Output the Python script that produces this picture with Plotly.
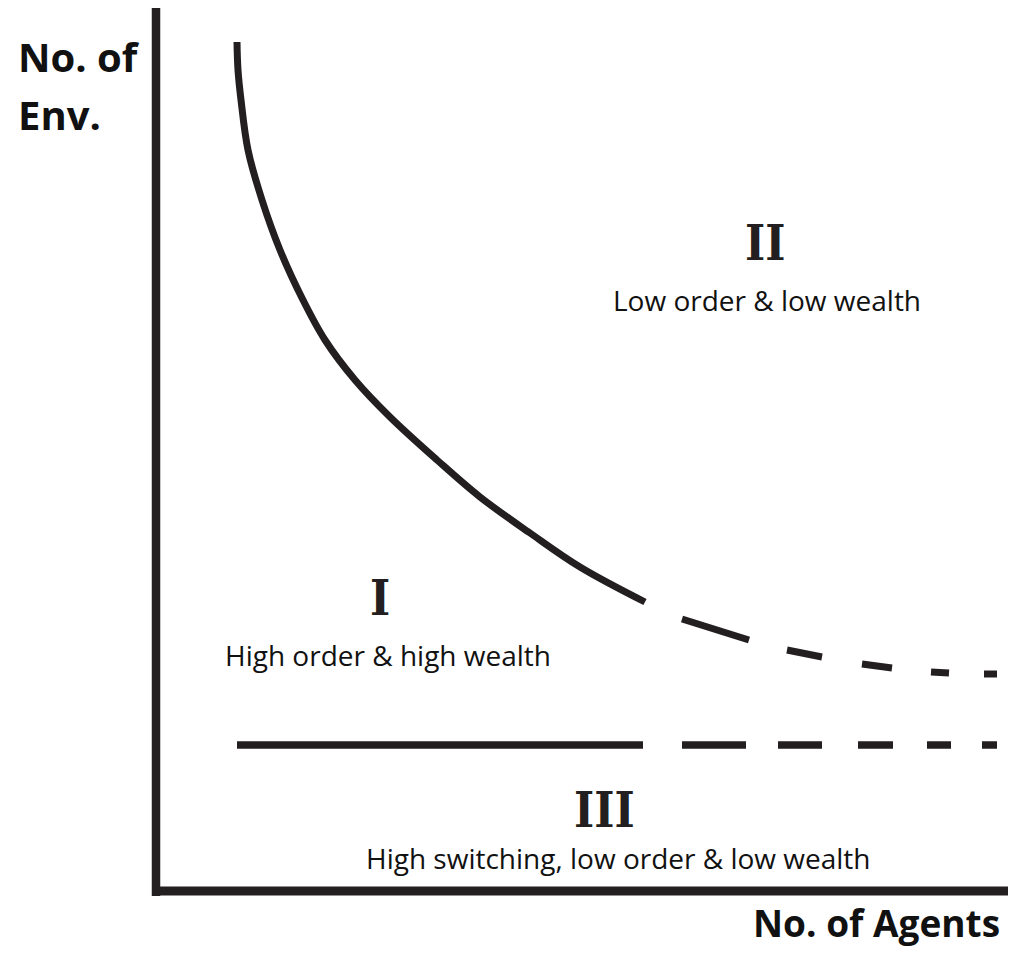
import plotly.graph_objects as go

INK = "#231f20"

# Schematic units: x = No. of Agents, y = No. of Env. (arbitrary)
curve_x = [0.81, 0.82, 0.85, 0.92, 1.06, 1.24, 1.47, 1.69, 1.99, 2.34, 2.81, 3.24, 3.74, 4.24, 4.89]
curve_y = [8.49, 8.21, 7.91, 7.41, 6.91, 6.41, 5.91, 5.51, 5.11, 4.74, 4.31, 3.94, 3.58, 3.24, 2.89]

# dashed continuation of the curve: (start, end) of each dash
curve_dash_x = [(5.26, 5.93), (6.31, 6.66), (7.06, 7.36), (7.75, 7.93), (8.28, 8.41)]
curve_dash_y = [(2.72, 2.51), (2.41, 2.34), (2.27, 2.23), (2.19, 2.18), (2.17, 2.17)]

# lower boundary
lower_y = 1.46
lower_solid_x = [0.81, 4.87]
lower_dash_x = [(5.26, 5.90), (6.22, 6.66), (7.02, 7.37), (7.71, 7.95), (8.26, 8.41)]

# region labels
region_num = ["I", "II", "III"]
region_desc = ["High order & high wealth", "Low order & low wealth",
               "High switching, low order & low wealth"]
num_x = [2.24, 6.09, 4.48]
num_y = [2.93, 6.48, 0.81]
desc_x = [2.32, 6.11, 4.62]
desc_y = [2.36, 5.91, 0.33]

fig = go.Figure()

fig.add_trace(go.Scatter(x=curve_x, y=curve_y, mode="lines",
                         line=dict(color=INK, width=7, shape="spline", smoothing=1),
                         hoverinfo="skip", showlegend=False))

dx, dy = [], []
for (x0, x1), (y0, y1) in zip(curve_dash_x, curve_dash_y):
    dx += [x0, x1, None]
    dy += [y0, y1, None]
fig.add_trace(go.Scatter(x=dx, y=dy, mode="lines",
                         line=dict(color=INK, width=7),
                         hoverinfo="skip", showlegend=False, connectgaps=False))

fig.add_trace(go.Scatter(x=lower_solid_x, y=[lower_y] * 2, mode="lines",
                         line=dict(color=INK, width=7.5),
                         hoverinfo="skip", showlegend=False))
lx, ly = [], []
for x0, x1 in lower_dash_x:
    lx += [x0, x1, None]
    ly += [lower_y, lower_y, None]
fig.add_trace(go.Scatter(x=lx, y=ly, mode="lines",
                         line=dict(color=INK, width=7.5),
                         hoverinfo="skip", showlegend=False, connectgaps=False))

# axes
fig.add_shape(type="line", x0=0, x1=0, y0=-0.05, y1=8.83, line=dict(color=INK, width=8.5))
fig.add_shape(type="line", x0=-0.04, x1=8.52, y0=0, y1=0, line=dict(color=INK, width=9))

for num, desc, nx, ny, tx, ty in zip(region_num, region_desc, num_x, num_y, desc_x, desc_y):
    fig.add_annotation(x=nx, y=ny, text=num, showarrow=False, xanchor="center", yanchor="middle",
                       font=dict(family="DejaVu Serif Condensed, DejaVu Serif", size=48,
                                 color=INK, weight="bold"))
    fig.add_annotation(x=tx, y=ty, text=desc, showarrow=False, xanchor="center", yanchor="middle",
                       font=dict(family="Open Sans", size=28, color="#111111"))

fig.add_annotation(x=-1.40, y=8.345, text="No. of", showarrow=False, xanchor="left", yanchor="middle",
                   font=dict(family="Open Sans", size=40, color="#111111", weight="bold"))
fig.add_annotation(x=-1.40, y=7.77, text="Env.", showarrow=False, xanchor="left", yanchor="middle",
                   font=dict(family="Open Sans", size=40, color="#111111", weight="bold"))
fig.add_annotation(x=8.46, y=-0.31, text="No. of Agents", showarrow=False, xanchor="right", yanchor="middle",
                   font=dict(family="Open Sans", size=37, color="#111111", weight="bold"))

# page body keeps an 8px margin, so the figure is 16px smaller than the window
fig.update_layout(width=1000, height=941, margin=dict(l=0, r=0, t=0, b=0),
                  paper_bgcolor="white", plot_bgcolor="white")
fig.update_xaxes(range=[-1.48, 8.52], visible=False, fixedrange=True)
fig.update_yaxes(range=[-0.58, 8.83], visible=False, fixedrange=True)

fig.write_html("out.html")
